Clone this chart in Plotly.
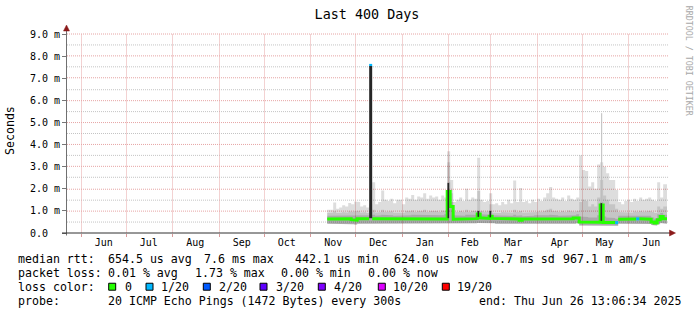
import math
import plotly.graph_objects as go
import pandas as pd

# ------------------------------------------------------------------ data
range_start = "2024-05-22 13:06:34"
range_end = "2025-06-26 13:06:34"
first_bin = "2024-11-12"          # first 2-day RRA bin with data
bin_days = 2

smoke_max = [
    1.05, 1.05, 1.38, 1.10, 1.15, 1.25, 1.20, 1.36, 1.30, 1.42,
    1.40, 1.20, 1.25, 1.15, 1.30, 2.30, 1.30, 1.40, 1.92, 1.50,
    1.45, 1.55, 1.35, 1.50, 1.50, 1.30, 1.60, 1.55, 1.72, 1.50,
    1.65, 1.60, 1.80, 1.55, 1.70, 1.60, 1.65, 1.50, 1.70, 1.60,
    3.70, 2.40, 1.40, 1.50, 1.60, 1.45, 2.00, 1.50, 1.60, 1.55,
    3.40, 1.50, 1.40, 1.45, 1.80, 1.30, 1.35, 1.25, 1.40, 1.30,
    1.50, 1.35, 2.37, 1.40, 2.03, 1.40, 1.45, 1.35, 1.50, 1.40,
    1.55, 1.45, 1.60, 1.80, 2.08, 1.60, 1.55, 1.50, 1.60, 1.45,
    1.70, 1.55, 1.50, 1.60, 3.50, 2.85, 2.80, 2.10, 2.30, 2.00,
    3.10, 3.20, 3.00, 2.70, 2.40, 2.40, 1.95, 1.40, 1.30, 1.45,
    1.50, 1.40, 1.55, 1.45, 1.60, 1.50, 1.55, 1.60, 1.50, 1.45,
    2.30, 1.60, 2.20]
smoke_mid = [
    0.90, 0.92, 0.98, 0.90, 0.92, 0.95, 0.92, 0.98, 0.95, 1.00,
    0.98, 0.92, 0.95, 0.90, 1.00, 1.05, 0.92, 0.95, 1.05, 0.95,
    0.95, 0.98, 0.92, 0.95, 0.95, 0.92, 1.00, 0.98, 1.02, 0.95,
    1.00, 0.98, 1.05, 0.95, 1.00, 0.98, 1.00, 0.95, 1.02, 1.00,
    3.20, 1.80, 0.95, 0.95, 1.00, 0.95, 1.05, 0.95, 1.00, 1.00,
    1.90, 1.00, 0.95, 0.98, 1.30, 0.92, 0.92, 0.90, 0.95, 0.92,
    0.95, 0.92, 1.05, 0.95, 1.00, 0.92, 0.95, 0.92, 0.95, 0.95,
    0.98, 0.95, 1.00, 1.05, 1.10, 1.00, 0.98, 0.95, 1.00, 0.95,
    1.02, 0.98, 0.95, 1.00, 1.40, 1.50, 1.45, 1.20, 1.30, 1.20,
    1.60, 2.40, 1.70, 1.50, 1.30, 1.30, 1.10, 0.95, 0.92, 0.95,
    0.95, 0.92, 0.98, 0.95, 1.00, 0.95, 0.98, 1.00, 0.95, 0.90,
    1.20, 1.10, 1.20]
smoke_dark = [
    0.78, 0.78, 0.80, 0.78, 0.78, 0.80, 0.78, 0.80, 0.78, 0.80,
    0.80, 0.78, 0.80, 0.78, 0.80, 0.82, 0.78, 0.80, 0.82, 0.80,
    0.80, 0.80, 0.78, 0.80, 0.80, 0.78, 0.80, 0.80, 0.82, 0.80,
    0.80, 0.80, 0.82, 0.80, 0.80, 0.80, 0.82, 0.80, 0.80, 0.85,
    2.30, 1.40, 0.80, 0.78, 0.80, 0.78, 0.82, 0.80, 0.80, 0.82,
    1.00, 0.85, 0.82, 0.82, 1.00, 0.80, 0.78, 0.78, 0.78, 0.78,
    0.78, 0.78, 0.82, 0.78, 0.80, 0.76, 0.78, 0.78, 0.78, 0.80,
    0.80, 0.78, 0.80, 0.80, 0.82, 0.80, 0.80, 0.78, 0.80, 0.78,
    0.80, 0.80, 0.80, 0.85, 0.75, 0.75, 0.72, 0.70, 0.72, 0.70,
    0.80, 1.40, 0.75, 0.70, 0.70, 0.68, 0.65, 0.78, 0.78, 0.80,
    0.80, 0.78, 0.80, 0.80, 0.80, 0.78, 0.80, 0.78, 0.70, 0.65,
    0.85, 0.90, 0.82]
smoke_min = [
    0.42, 0.42, 0.40, 0.42, 0.43, 0.42, 0.41, 0.42, 0.40, 0.38,
    0.42, 0.42, 0.43, 0.42, 0.42, 0.42, 0.43, 0.42, 0.42, 0.43,
    0.42, 0.43, 0.42, 0.42, 0.43, 0.42, 0.42, 0.43, 0.42, 0.42,
    0.43, 0.42, 0.42, 0.42, 0.43, 0.42, 0.42, 0.41, 0.42, 0.42,
    0.42, 0.44, 0.42, 0.42, 0.43, 0.42, 0.42, 0.43, 0.42, 0.44,
    0.45, 0.46, 0.45, 0.44, 0.46, 0.44, 0.42, 0.42, 0.42, 0.42,
    0.42, 0.42, 0.43, 0.42, 0.40, 0.42, 0.42, 0.42, 0.43, 0.42,
    0.42, 0.43, 0.42, 0.42, 0.43, 0.42, 0.42, 0.43, 0.42, 0.42,
    0.43, 0.42, 0.42, 0.44, 0.34, 0.33, 0.34, 0.34, 0.33, 0.34,
    0.34, 0.34, 0.33, 0.33, 0.34, 0.33, 0.33, 0.42, 0.42, 0.43,
    0.42, 0.42, 0.43, 0.42, 0.42, 0.42, 0.42, 0.41, 0.36, 0.34,
    0.40, 0.45, 0.42]
median_rtt = [
    0.63, 0.63, 0.64, 0.64, 0.63, 0.64, 0.63, 0.64, 0.60, 0.58,
    0.64, 0.65, 0.64, 0.64, 7.58, 0.64, 0.64, 0.65, 0.64, 0.64,
    0.63, 0.64, 0.64, 0.65, 0.64, 0.64, 0.63, 0.63, 0.64, 0.64,
    0.63, 0.64, 0.63, 0.64, 0.64, 0.63, 0.64, 0.63, 0.62, 0.63,
    1.88, 1.20, 0.62, 0.63, 0.63, 0.64, 0.63, 0.64, 0.63, 0.65,
    0.86, 0.69, 0.68, 0.66, 0.76, 0.66, 0.63, 0.63, 0.63, 0.63,
    0.63, 0.63, 0.63, 0.63, 0.58, 0.63, 0.63, 0.64, 0.64, 0.64,
    0.64, 0.64, 0.63, 0.64, 0.64, 0.64, 0.63, 0.64, 0.63, 0.62,
    0.64, 0.64, 0.68, 0.68, 0.50, 0.49, 0.49, 0.49, 0.49, 0.49,
    0.49, 1.27, 0.48, 0.48, 0.48, 0.48, 0.47, 0.62, 0.63, 0.63,
    0.64, 0.64, 0.63, 0.64, 0.64, 0.63, 0.63, 0.62, 0.50, 0.45,
    0.60, 0.75, 0.65]
loss_count = [0] * 113
for _i in (14, 96, 103):
    loss_count[_i] = 1

# dense (dark) smoke columns at the spikes
spike_bins = [14, 40, 50, 54, 91]
spike_lo = [0.62, 0.62, 0.68, 0.66, 0.50]
spike_hi = [7.55, 2.26, 1.00, 1.00, 1.35]
# single outlier pings (thin grey line)
peak_bins = [91]
peak_lo = [1.35]
peak_hi = [5.42]

month_starts = ["2024-06-01", "2024-07-01", "2024-08-01", "2024-09-01", "2024-10-01",
                "2024-11-01", "2024-12-01", "2025-01-01", "2025-02-01", "2025-03-01",
                "2025-04-01", "2025-05-01", "2025-06-01"]
month_mids = ["2024-06-16", "2024-07-16", "2024-08-16", "2024-09-16", "2024-10-16",
              "2024-11-16", "2024-12-16", "2025-01-16", "2025-02-15", "2025-03-16",
              "2025-04-16", "2025-05-16", "2025-06-16"]
month_labels = ["Jun", "Jul", "Aug", "Sep", "Oct", "Nov", "Dec",
                "Jan", "Feb", "Mar", "Apr", "May", "Jun"]
y_ticks = [0, 1, 2, 3, 4, 5, 6, 7, 8, 9]
y_labels = ["0.0  ", "1.0 m", "2.0 m", "3.0 m", "4.0 m", "5.0 m",
            "6.0 m", "7.0 m", "8.0 m", "9.0 m"]
y_minor = [0.5, 1.5, 2.5, 3.5, 4.5, 5.5, 6.5, 7.5, 8.5]

title_text = "Last 400 Days"
y_title = "Seconds"
credit = "RRDTOOL / TOBI OETIKER"

rtt_label = "median rtt:"
rtt_stats = ["654.5 us avg", "7.6 ms max", "442.1 us min", "624.0 us now",
             "0.7 ms sd", "967.1 m am/s"]
loss_label = "packet loss:"
loss_stats = ["0.01 % avg", "1.73 % max", "0.00 % min", "0.00 % now"]
color_label = "loss color:"
loss_levels = [0, 1, 2, 3, 4, 10, 19]
loss_names = ["0", "1/20", "2/20", "3/20", "4/20", "10/20", "19/20"]
loss_colors = ["#26ff00", "#00b8ff", "#0059ff", "#5e00ff", "#7e00ff", "#dd00ff", "#ff0000"]
probe_label = "probe:"
probe_text = "20 ICMP Echo Pings (1472 Bytes) every 300s"
end_text = "end: Thu Jun 26 13:06:34 2025"

# ------------------------------------------------------------------ geometry
W, H = 697, 315
L, R, T, B = 67, 30, 33.5, 81.5
PW, PH = W - L - R, H - T - B
Y_MAX = 9.0
FONT = "DejaVu Sans Mono"
MGRID = "#e6a4a4"
NGRID = "#c4c4c4"
T0, T1 = pd.Timestamp(range_start), pd.Timestamp(range_end)


def px_x(px):
    return (px - L) / PW


def px_y(py):
    return (H - B - py) / PH


def snap_row(v):
    py = (H - B) - v * PH / Y_MAX
    return math.floor(py) + 0.5


def snap_col(t):
    px = L + (pd.Timestamp(t) - T0) / (T1 - T0) * PW
    return math.floor(px) + 0.5


n = len(median_rtt)
starts = list(pd.date_range(first_bin, periods=n, freq=f"{bin_days}D"))
edges = starts + [T1]
centers = [s + pd.Timedelta(days=bin_days / 2) for s in starts]


def steps(values, mask=None):
    xs, ys = [], []
    for i, v in enumerate(values):
        if mask is None or mask[i]:
            xs += [edges[i], edges[i + 1]]
            ys += [v, v]
        elif xs and xs[-1] is not None:
            xs.append(None)
            ys.append(None)
    return xs, ys


fig = go.Figure()


def band(lo, hi, color):
    xl, yl = steps(lo)
    xh, yh = steps(hi)
    fig.add_trace(go.Scatter(x=xl, y=yl, mode="lines", line=dict(width=0),
                             hoverinfo="skip", showlegend=False))
    fig.add_trace(go.Scatter(x=xh, y=yh, mode="lines", line=dict(width=0),
                             fill="tonexty", fillcolor=color,
                             hoverinfo="skip", showlegend=False))


# translucent smoke layers (grid shows through, like rrdtool)
band(smoke_min, smoke_max, "rgba(0,0,0,0.135)")
band(smoke_min, smoke_mid, "rgba(0,0,0,0.105)")
band(smoke_min, smoke_dark, "rgba(0,0,0,0.135)")

# thin outlier lines
px_, py_ = [], []
for b, lo, hi in zip(peak_bins, peak_lo, peak_hi):
    px_ += [centers[b], centers[b], None]
    py_ += [lo, hi, None]
fig.add_trace(go.Scatter(x=px_, y=py_, mode="lines", line=dict(color="#bdbdbd", width=1),
                         hoverinfo="skip", showlegend=False))

# median line coloured by loss
for lvl, col in zip(loss_levels, loss_colors):
    mask = [lc == lvl for lc in loss_count]
    if not any(mask):
        continue
    xs, ys = steps(median_rtt, mask)
    fig.add_trace(go.Scatter(x=xs, y=ys, mode="lines", line=dict(color=col, width=3),
                             hoverinfo="skip", showlegend=False))

# dark smoke columns
for b, lo, hi in zip(spike_bins, spike_lo, spike_hi):
    big = hi > 5
    x0 = centers[b] if big else starts[b] + pd.Timedelta(hours=18)
    fig.add_trace(go.Scatter(x=[x0, x0], y=[lo + 0.05, hi], mode="lines",
                             line=dict(color="#262626", width=3 if big else 1.6),
                             hoverinfo="skip", showlegend=False))

# ------------------------------------------------------------------ layout
fig.update_layout(
    width=W, height=H, autosize=False,
    margin=dict(l=L, r=R, t=T, b=B, pad=0),
    paper_bgcolor="white", plot_bgcolor="rgba(0,0,0,0)",
    font=dict(family=FONT, size=10, color="black"),
    title=dict(text=title_text, x=0.5, xref="paper", xanchor="center",
               y=1 - 14 / H, yref="container", yanchor="middle",
               font=dict(family=FONT, size=13.4, color="black")),
    showlegend=False,
)
fig.update_xaxes(
    type="date", range=[range_start, range_end],
    tickmode="array", tickvals=month_mids, ticktext=month_labels,
    ticks="", showgrid=False, zeroline=False, showline=False,
    tickfont=dict(family=FONT, size=10, color="black"),
    ticklabelstandoff=2,
    minor=dict(tickmode="array", tickvals=month_starts, showgrid=False,
               ticks="outside", ticklen=3, tickcolor="#d99a9a"),
)
fig.update_yaxes(
    range=[0, Y_MAX], tickmode="array", tickvals=y_ticks, ticktext=y_labels,
    showgrid=False, zeroline=False, showline=False,
    ticks="outside", ticklen=4, tickcolor="#777777",
    tickfont=dict(family=FONT, size=10, color="black"),
)

shapes = []
DOT = "1px,1px"
for v in y_minor:
    r = snap_row(v)
    shapes.append(dict(type="line", xref="paper", yref="paper", layer="below",
                       x0=px_x(67), x1=px_x(668), y0=px_y(r), y1=px_y(r),
                       line=dict(color=NGRID, width=1, dash=DOT)))
for v in y_ticks[1:]:
    r = snap_row(v)
    shapes.append(dict(type="line", xref="paper", yref="paper", layer="below",
                       x0=px_x(67), x1=px_x(668), y0=px_y(r), y1=px_y(r),
                       line=dict(color=MGRID, width=1, dash=DOT)))
for t in month_starts:
    c = snap_col(t)
    shapes.append(dict(type="line", xref="paper", yref="paper", layer="below",
                       x0=px_x(c), x1=px_x(c), y0=px_y(233), y1=px_y(33.5),
                       line=dict(color=MGRID, width=1, dash=DOT)))
# axis lines with arrows
shapes.append(dict(type="line", xref="paper", yref="paper",
                   x0=px_x(66.5), x1=px_x(66.5), y0=px_y(236), y1=px_y(29),
                   line=dict(color="#707070", width=1)))
shapes.append(dict(type="line", xref="paper", yref="paper",
                   x0=px_x(62), x1=px_x(671), y0=px_y(233.5), y1=px_y(233.5),
                   line=dict(color="#303030", width=1)))
shapes.append(dict(type="path", xref="paper", yref="paper",
                   path=f"M {px_x(63.5)} {px_y(30.5)} L {px_x(69.5)} {px_y(30.5)} L {px_x(66.5)} {px_y(24.5)} Z",
                   fillcolor="#8b1a1a", line=dict(color="#8b1a1a", width=0.5)))
shapes.append(dict(type="path", xref="paper", yref="paper",
                   path=f"M {px_x(669.5)} {px_y(230.5)} L {px_x(669.5)} {px_y(236.5)} L {px_x(675.5)} {px_y(233.5)} Z",
                   fillcolor="#8b1a1a", line=dict(color="#8b1a1a", width=0.5)))

annotations = []


def text_at(x, y, s, size=11.6, color="black"):
    annotations.append(dict(x=px_x(x - 1), y=px_y(y), xref="paper", yref="paper",
                            xanchor="left", yanchor="middle", showarrow=False,
                            text=s.replace(" ", "\u00a0"),
                            font=dict(family=FONT, size=size, color=color)))


row_y = [259.5, 273.5, 287.5, 301.5]
col_x = 16.7
text_at(col_x, row_y[0], rtt_label)
for x, s in zip([107.3, 203.3, 294.0, 393.3, 491.0, 562.0], rtt_stats):
    text_at(x, row_y[0], s)
text_at(col_x, row_y[1], loss_label)
for x, s in zip([107.3, 194.0, 280.0, 366.7], loss_stats):
    text_at(x, row_y[1], s)
text_at(col_x, row_y[2], color_label)
box_x = [108.7, 146.0, 203.3, 260.0, 318.3, 378.3, 442.3]
lab_x = [124.0, 160.0, 218.3, 275.0, 333.3, 391.7, 456.0]
for bx, lx, nm, col in zip(box_x, lab_x, loss_names, loss_colors):
    shapes.append(dict(type="rect", xref="paper", yref="paper",
                       x0=px_x(bx), x1=px_x(bx + 7), y0=px_y(291), y1=px_y(284),
                       fillcolor=col, line=dict(color="black", width=1)))
    text_at(lx, row_y[2], nm)
text_at(col_x, row_y[3], probe_label)
text_at(107.3, row_y[3], probe_text)
text_at(478.0, row_y[3], end_text)

annotations.append(dict(x=px_x(10), y=px_y(131), xref="paper", yref="paper",
                        xanchor="center", yanchor="middle", showarrow=False,
                        textangle=-90, text=y_title,
                        font=dict(family=FONT, size=11.6, color="black")))
annotations.append(dict(x=px_x(688.5), y=px_y(60), xref="paper", yref="paper",
                        xanchor="center", yanchor="middle", showarrow=False,
                        textangle=90, text=credit.replace(" ", "\u00a0"),
                        font=dict(family=FONT, size=8.3, color="#a8a8a8")))

fig.update_layout(shapes=shapes, annotations=annotations)
fig.write_html("out.html", config={"displayModeBar": False})
